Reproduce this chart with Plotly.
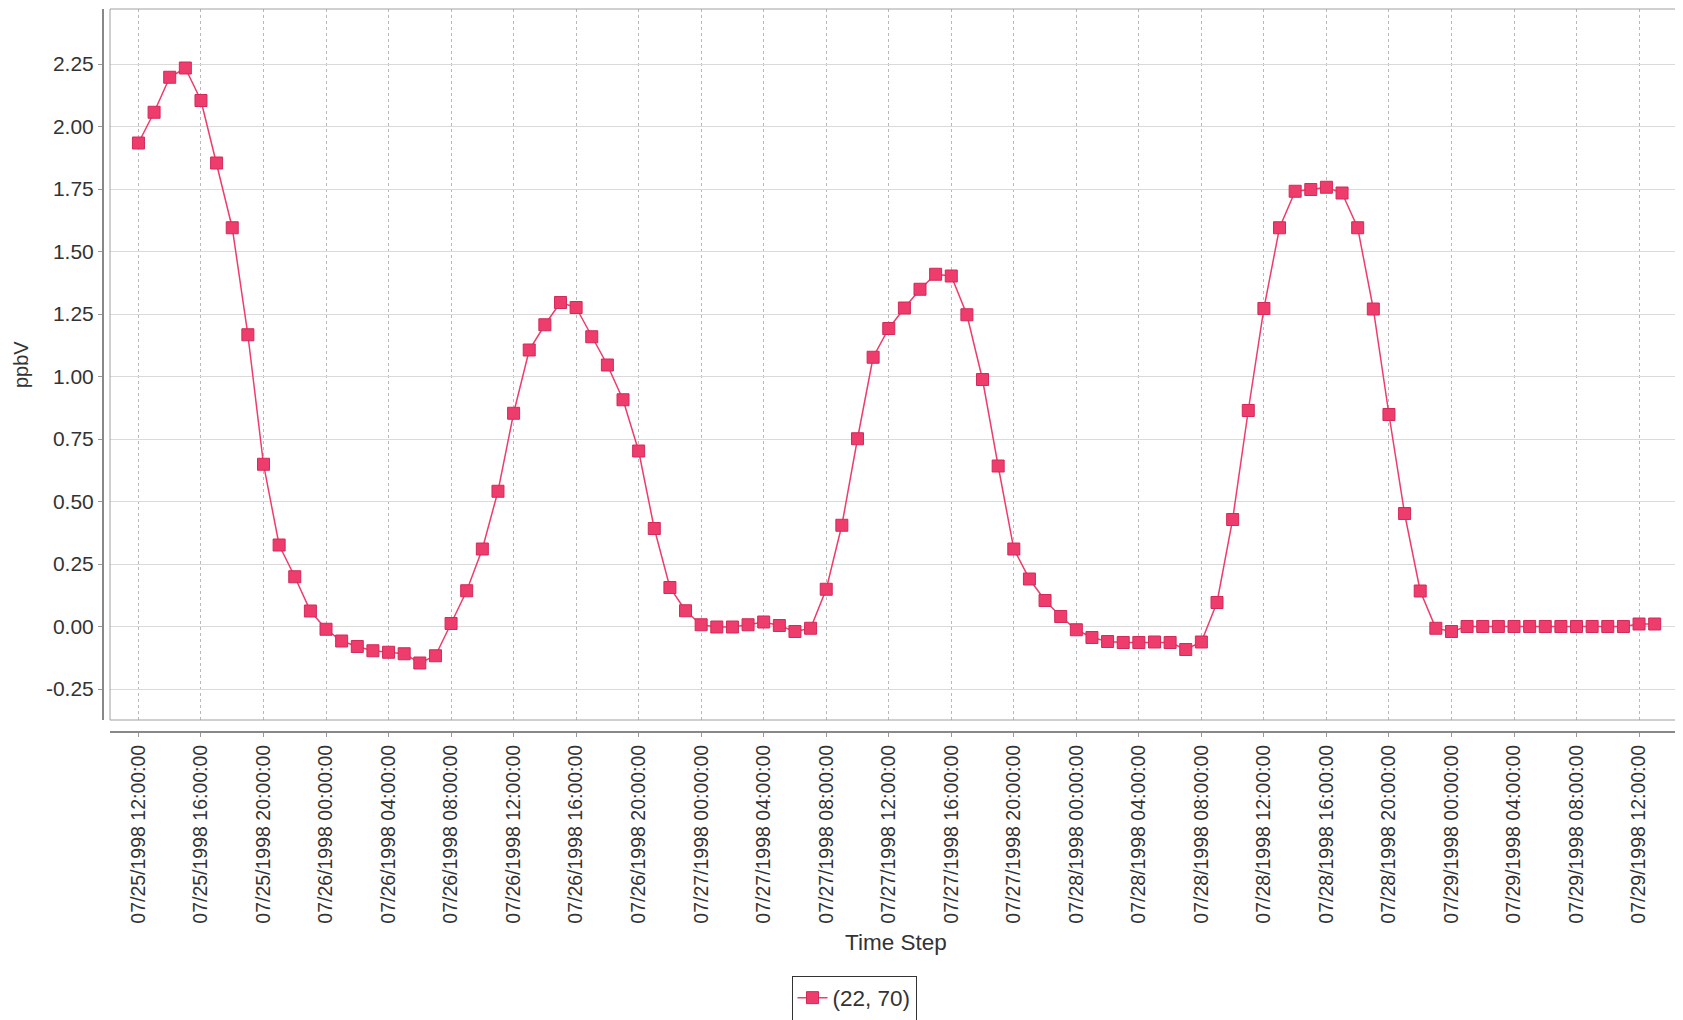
import pandas as pd
import plotly.graph_objects as go

# ---- data ----
start_time = "1998-07-25 12:00:00"
n_points = 98
times = pd.date_range(start=start_time, periods=n_points, freq="h")

values_0725 = [1.934, 2.057, 2.197, 2.234, 2.104, 1.854, 1.595, 1.167, 0.649, 0.326, 0.199, 0.062]
values_0726 = [-0.011, -0.058, -0.080, -0.097, -0.103, -0.109, -0.146, -0.117, 0.012, 0.143, 0.310, 0.541,
               0.853, 1.106, 1.207, 1.296, 1.276, 1.159, 1.046, 0.907, 0.702, 0.392, 0.156, 0.063]
values_0727 = [0.007, -0.002, -0.002, 0.007, 0.018, 0.004, -0.020, -0.007, 0.149, 0.405, 0.751, 1.077,
               1.192, 1.274, 1.349, 1.409, 1.402, 1.247, 0.988, 0.642, 0.310, 0.190, 0.104, 0.040]
values_0728 = [-0.013, -0.044, -0.060, -0.064, -0.064, -0.062, -0.064, -0.092, -0.062, 0.096, 0.428, 0.864,
               1.272, 1.595, 1.741, 1.748, 1.757, 1.734, 1.595, 1.270, 0.848, 0.452, 0.142, -0.007]
values_0729 = [-0.020, 0.000, 0.000, 0.000, 0.000, 0.000, 0.000, 0.000, 0.000, 0.000, 0.000, 0.000, 0.010, 0.010]
values = values_0725 + values_0726 + values_0727 + values_0728 + values_0729

series_name = "(22, 70)"
x_title = "Time Step"
y_title = "ppbV"

tick_times = pd.date_range(start="1998-07-25 12:00:00", end="1998-07-29 12:00:00", freq="4h")
tick_text = [t.strftime("%m/%d/%Y %H:%M:%S") for t in tick_times]
y_ticks = [-0.25, 0.0, 0.25, 0.5, 0.75, 1.0, 1.25, 1.5, 1.75, 2.0, 2.25]
y_range = [-0.374, 2.47]
x_range = [pd.Timestamp("1998-07-25 10:10:48"), pd.Timestamp("1998-07-29 14:37:12")]

# ---- figure (page body has an 8px default margin) ----
OFF = 8
W, H = 1683 - OFF, 1020 - OFF
ml, mr, mt, mb = 103 - OFF, 3, 9 - OFF, 288
pw, ph = W - ml - mr, H - mt - mb

line_color = "#ee3c6c"
font_family = "Liberation Sans, Arial, sans-serif"
text_color = "#333333"

fig = go.Figure()
fig.add_trace(go.Scatter(
    x=times, y=values, mode="lines+markers", name=series_name,
    line=dict(color=line_color, width=1.5),
    marker=dict(symbol="square", size=12, color=line_color,
                line=dict(color="#d22a5a", width=1)),
))

x_dom0 = (110 - 103) / pw
y_dom0 = (732 - 720) / ph

fig.update_layout(
    width=W, height=H,
    margin=dict(l=ml, r=mr, t=mt, b=mb, autoexpand=False),
    paper_bgcolor="white", plot_bgcolor="white",
    font=dict(family=font_family, size=20, color=text_color),
    showlegend=True,
    legend=dict(
        xref="container", yref="container",
        x=(854 - OFF) / W, y=1 - (998 - OFF) / H, xanchor="center", yanchor="middle",
        bordercolor="#333333", borderwidth=1, bgcolor="white",
        font=dict(size=22.5, color=text_color), itemwidth=30,
    ),
    xaxis=dict(
        domain=[x_dom0, 1], anchor="free", position=0, automargin=False,
        range=x_range, tickmode="array", tickvals=tick_times, ticktext=tick_text,
        tickangle=-90, tickfont=dict(size=19.5, color=text_color),
        showgrid=True, gridcolor="#b8b8b8", griddash="dot", gridwidth=1,
        showline=True, linecolor="#888888", linewidth=2,
        ticks="outside", ticklen=4, tickcolor="#999999",
        zeroline=False,
    ),
    yaxis=dict(
        domain=[y_dom0, 1], anchor="free", position=0, automargin=False,
        range=y_range, tickmode="array", tickvals=y_ticks,
        ticktext=[f"{v:.2f}" for v in y_ticks],
        tickfont=dict(size=21, color=text_color),
        showgrid=True, gridcolor="#dadada", gridwidth=1,
        showline=True, linecolor="#888888", linewidth=2,
        ticks="outside", ticklen=4, tickcolor="#999999",
        zeroline=False,
    ),
    shapes=[
        dict(type="rect", xref="x domain", yref="y domain", x0=0, x1=1, y0=0, y1=1,
             line=dict(color="#a0a0a0", width=1), layer="above"),
        dict(type="line", xref="x domain", yref="y", x0=0, x1=1, y0=0, y1=0,
             line=dict(color="#5050f0", width=1, dash="dashdot"), layer="below"),
    ],
    annotations=[
        dict(text=y_title, xref="paper", yref="paper", x=(21 - 103) / pw, y=(732 - 365) / ph,
             textangle=-90, showarrow=False, font=dict(size=20, color=text_color),
             xanchor="center", yanchor="middle"),
        dict(text=x_title, xref="paper", yref="paper", x=(896 - 103) / pw, y=(732 - 942) / ph,
             showarrow=False, font=dict(size=22.5, color=text_color),
             xanchor="center", yanchor="middle"),
    ],
)

fig.write_html("out.html")
